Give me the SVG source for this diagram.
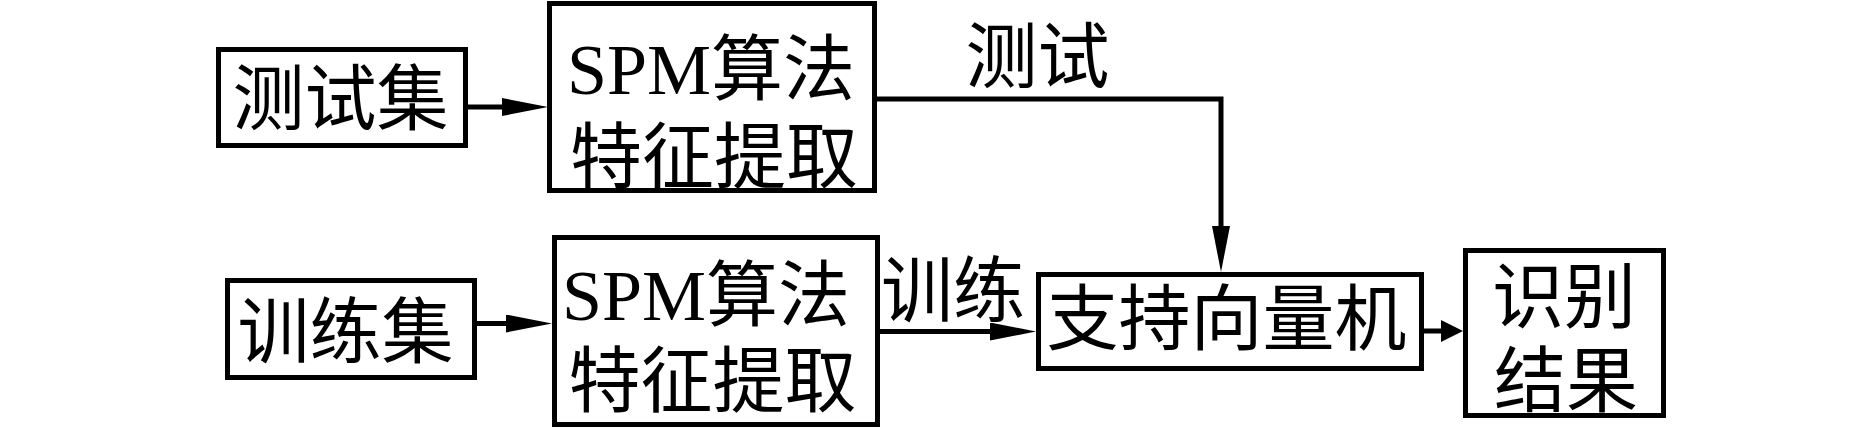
<svg xmlns="http://www.w3.org/2000/svg" width="1875" height="429" viewBox="0 0 1875 429">
<style>
.box{fill:#fff;stroke:#000;stroke-width:5}
.conn{fill:none;stroke:#000;stroke-width:5}
.cjk{font-family:"Liberation Serif","Noto Sans CJK SC",serif;font-size:72px;fill:#000}
.mix{font-family:"Liberation Serif","Noto Sans CJK SC",serif;font-size:72px;fill:#000}
.mid{text-anchor:middle}
</style>
<defs>
<marker id="ah" markerUnits="userSpaceOnUse" markerWidth="46" markerHeight="18" viewBox="0 0 46 18" refX="2" refY="9" orient="auto">
<path d="M0,0 L46,9 L0,18 z" fill="#000"/>
</marker>
<marker id="ahs" markerUnits="userSpaceOnUse" markerWidth="22" markerHeight="22" viewBox="0 0 22 22" refX="2" refY="11" orient="auto">
<path d="M0,0 L22,11 L0,22 z" fill="#000"/>
</marker>
</defs>
<rect width="1875" height="429" fill="#fff"/>
<g id="connectors">
<path class="conn" d="M466,107 H504" marker-end="url(#ah)"/>
<path class="conn" d="M475,323.5 H508" marker-end="url(#ah)"/>
<path class="conn" d="M875,99 H1221 V228" marker-end="url(#ah)"/>
<path class="conn" d="M878,331.5 H992" marker-end="url(#ah)"/>
<path class="conn" d="M1422,331 H1443" marker-end="url(#ahs)"/>
<text class="cjk mid" x="1037.5" y="82">测试</text>
<text class="cjk mid" x="953" y="315.5">训练</text>
</g>
<g id="test-set">
<rect class="box" x="218.5" y="49.5" width="247" height="96"/>
<text class="cjk mid" x="340.5" y="123.5">测试集</text>
</g>
<g id="spm-test">
<rect class="box" x="549.5" y="3.5" width="325" height="187"/>
<text class="mix" x="567" y="94">SPM算法</text>
<text class="cjk mid" x="714" y="182">特征提取</text>
</g>
<g id="train-set">
<rect class="box" x="227.5" y="280.5" width="247" height="97"/>
<text class="cjk mid" x="345.5" y="356.5">训练集</text>
</g>
<g id="spm-train">
<rect class="box" x="554.5" y="237.5" width="323" height="187"/>
<text class="mix" x="562" y="320">SPM算法</text>
<text class="cjk mid" x="712.5" y="405.5">特征提取</text>
</g>
<g id="svm">
<rect class="box" x="1038.5" y="274.5" width="383" height="94"/>
<text class="cjk mid" x="1226.5" y="343.5">支持向量机</text>
</g>
<g id="result">
<rect class="box" x="1465.5" y="250.5" width="198" height="165"/>
<text class="cjk mid" x="1564" y="322">识别</text>
<text class="cjk mid" x="1566" y="405.5">结果</text>
</g>
</svg>
